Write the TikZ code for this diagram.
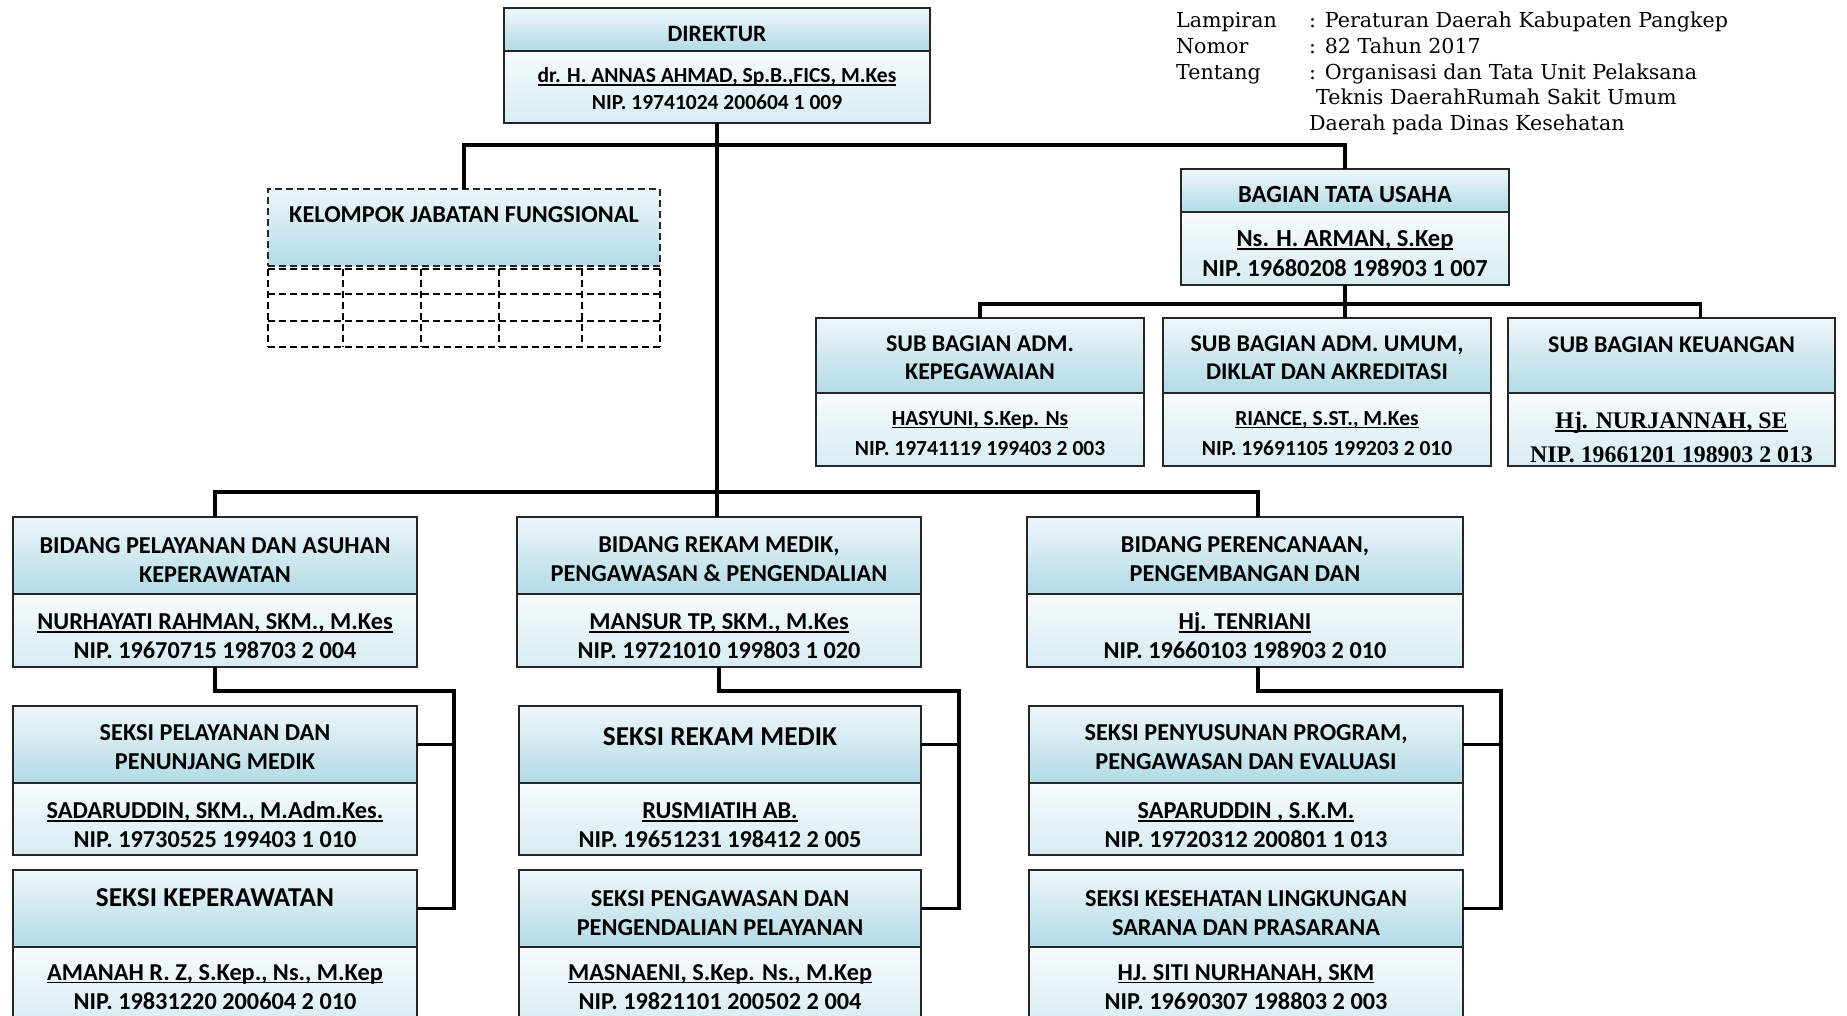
\documentclass[tikz,border=0pt]{standalone}
\usepackage{fontspec}
\setmainfont{Carlito}
\newfontfamily\lampfont{DejaVu Serif}
\newfontfamily\sbserif{Liberation Serif}
\definecolor{hdtop}{HTML}{EEF7FA}
\definecolor{hdbot}{HTML}{B2DAE5}
\definecolor{bdtop}{HTML}{F7FBFD}
\definecolor{bdbot}{HTML}{D6ECF2}
\newcommand\fsz[2]{\fontsize{#1}{#2}\selectfont\bfseries}
\newcommand\ulname[1]{\setbox0\hbox{#1}\rlap{\rule[-3pt]{\wd0}{1.5pt}}\box0}
\newcommand\dn[1]{\rule{0pt}{#1pt}}
\begin{document}
\begin{tikzpicture}[x=1pt,y=-1pt,
  hd/.style={draw=black!85,line width=1.8pt,top color=hdtop,bottom color=hdbot,anchor=north west,inner sep=0pt,outer sep=0pt,align=center},
  bd/.style={hd,top color=bdtop,bottom color=bdbot},
  bf/.style={font=\fsz{24.3}{29}},
  bigf/.style={font=\fsz{27.3}{31}},
  sbf/.style={font=\fsz{24}{28}},
  sbn/.style={font=\fsz{21.5}{30}},
  lowtext/.style={text height=25pt,text depth=0pt},
  conn/.style={line width=3.5pt},
  gridline/.style={line width=1.6pt,dash pattern=on 7pt off 4pt}]
\useasboundingbox (0,0) rectangle (1847,1016);
\clip (0,0) rectangle (1847,1016);
\node[anchor=base west,inner sep=0pt,font=\lampfont\fontsize{20.6}{25.6}\selectfont] (lamp) at (1176,28)
  {\begin{tabular}[t]{@{}p{133pt}@{}l@{}}Lampiran & : Peraturan Daerah Kabupaten Pangkep\\Nomor & : 82 Tahun 2017\\Tentang & : Organisasi dan Tata Unit Pelaksana\\ & \hspace{7pt}Teknis DaerahRumah Sakit Umum\\ & Daerah pada Dinas Kesehatan\end{tabular}};
% direktur
\node[hd,lowtext,minimum width=426,minimum height=43,font=\fsz{23.5}{26}] (dir-h) at (504,8) {DIREKTUR};
\node[bd,minimum width=426,minimum height=72,font=\fsz{21.5}{27}] (dir-b) at (dir-h.south west) {\dn{19}\ulname{dr. H. ANNAS AHMAD, Sp.B.,FICS, M.Kes}\\NIP. 19741024 200604 1 009};
% kelompok jabatan fungsional
\node[hd,gridline,minimum width=392,minimum height=77,font=\fsz{24.3}{26}] (kjf) at (268,189) {KELOMPOK JABATAN FUNGSIONAL\\ \mbox{}};
\foreach \gx in {268,343,421,499,582,660}{\draw[gridline](\gx,269)--(\gx,347);}
\foreach \gy in {269,294,321,347}{\draw[gridline](268,\gy)--(660,\gy);}
% tata usaha
\node[hd,lowtext,minimum width=328,minimum height=43,font=\fsz{24.6}{26}] (tu-h) at (1181,169) {BAGIAN TATA USAHA};
\node[bd,minimum width=328,minimum height=73,font=\fsz{24.5}{29.5}] (tu-b) at (tu-h.south west) {\dn{26}\ulname{Ns. H. ARMAN, S.Kep}\\NIP. 19680208 198903 1 007};
\node[hd,sbf,minimum width=328,minimum height=75] (sbpeg-h) at (816,318) {\dn{21}SUB BAGIAN ADM.\\KEPEGAWAIAN};
\node[bd,sbn,minimum width=328,minimum height=73] (sbpeg-b) at (sbpeg-h.south west) {\dn{22}\ulname{HASYUNI, S.Kep. Ns}\\NIP. 19741119 199403 2 003};
\node[hd,sbf,minimum width=328,minimum height=75] (sbumum-h) at (1163,318) {\dn{21}SUB BAGIAN ADM. UMUM,\\DIKLAT DAN AKREDITASI};
\node[bd,sbn,minimum width=328,minimum height=73] (sbumum-b) at (sbumum-h.south west) {\dn{22}\ulname{RIANCE, S.ST., M.Kes}\\NIP. 19691105 199203 2 010};
\node[hd,sbf,minimum width=327,minimum height=75] (sbkeu-h) at (1508,318) {\dn{21}SUB BAGIAN KEUANGAN\\ \mbox{}};
\begin{scope}
\clip (1507,392) rectangle (1836,465);
\node[bd,minimum width=327,minimum height=73,font={\sbserif\fsz{23.8}{34}}] (sbkeu-b) at (sbkeu-h.south west) {\dn{33}\ulname{Hj. NURJANNAH, SE}\\NIP. 19661201 198903 2 013};
\end{scope}
\draw[draw=black!85,line width=1.8pt] (sbkeu-b.south west) rectangle (sbkeu-b.north east);
% bidang
\node[hd,bf,minimum width=404,minimum height=77] (byan-h) at (13,517) {\dn{24}BIDANG PELAYANAN DAN ASUHAN\\KEPERAWATAN};
\node[bd,bf,minimum width=404,minimum height=73] (byan-b) at (byan-h.south west) {\dn{28}\ulname{NURHAYATI RAHMAN, SKM., M.Kes}\\NIP. 19670715 198703 2 004};
\node[hd,bf,minimum width=404,minimum height=77] (brm-h) at (517,517) {\dn{24}BIDANG REKAM MEDIK,\\PENGAWASAN \& PENGENDALIAN};
\node[bd,bf,minimum width=404,minimum height=73] (brm-b) at (brm-h.south west) {\dn{28}\ulname{MANSUR TP, SKM., M.Kes}\\NIP. 19721010 199803 1 020};
\node[hd,bf,minimum width=436,minimum height=77] (bren-h) at (1027,517) {\dn{24}BIDANG PERENCANAAN,\\PENGEMBANGAN DAN};
\node[bd,bf,minimum width=436,minimum height=73] (bren-b) at (bren-h.south west) {\dn{28}\ulname{Hj. TENRIANI}\\NIP. 19660103 198903 2 010};
% seksi
\node[hd,bf,minimum width=404,minimum height=77] (skyan1-h) at (13,706) {\dn{21}SEKSI PELAYANAN DAN\\PENUNJANG MEDIK};
\node[bd,bf,minimum width=404,minimum height=72] (skyan1-b) at (skyan1-h.south west) {\dn{28.5}\ulname{SADARUDDIN, SKM., M.Adm.Kes.}\\NIP. 19730525 199403 1 010};
\node[hd,bigf,minimum width=404,minimum height=77] (skyan2-h) at (13,870) {\dn{27.5}SEKSI KEPERAWATAN\\ \mbox{}};
\node[bd,bf,minimum width=404,minimum height=80] (skyan2-b) at (skyan2-h.south west) {\ulname{AMANAH R. Z, S.Kep., Ns., M.Kep}\\NIP. 19831220 200604 2 010};
\node[hd,bigf,minimum width=402,minimum height=77] (skrm1-h) at (519,706) {\dn{33.5}SEKSI REKAM MEDIK\\ \mbox{}};
\node[bd,bf,minimum width=402,minimum height=72] (skrm1-b) at (skrm1-h.south west) {\dn{28.5}\ulname{RUSMIATIH AB.}\\NIP. 19651231 198412 2 005};
\node[hd,bf,minimum width=402,minimum height=77] (skrm2-h) at (519,870) {\dn{25.5}SEKSI PENGAWASAN DAN\\PENGENDALIAN PELAYANAN};
\node[bd,bf,minimum width=402,minimum height=80] (skrm2-b) at (skrm2-h.south west) {\ulname{MASNAENI, S.Kep. Ns., M.Kep}\\NIP. 19821101 200502 2 004};
\node[hd,bf,minimum width=434,minimum height=77] (skren1-h) at (1029,706) {\dn{21}SEKSI PENYUSUNAN PROGRAM,\\PENGAWASAN DAN EVALUASI};
\node[bd,bf,minimum width=434,minimum height=72] (skren1-b) at (skren1-h.south west) {\dn{28.5}\ulname{SAPARUDDIN , S.K.M.}\\NIP. 19720312 200801 1 013};
\node[hd,bf,minimum width=434,minimum height=77] (skren2-h) at (1029,870) {\dn{25.5}SEKSI KESEHATAN LINGKUNGAN\\SARANA DAN PRASARANA};
\node[bd,bf,minimum width=434,minimum height=80] (skren2-b) at (skren2-h.south west) {\ulname{HJ. SITI NURHANAH, SKM}\\NIP. 19690307 198803 2 003};
% garis
\coordinate (topbus) at (0,145);
\coordinate (sbbus) at (0,304);
\coordinate (midbus) at (0,492);
\coordinate (keu-in) at ([xshift=29pt]sbkeu-h.north);
\coordinate (ren-in) at ([xshift=13pt]bren-h.north);
\coordinate (ren-out) at ([xshift=13pt]bren-b.south);
\coordinate (yan-r) at (454,691);
\coordinate (rm-r) at (959,691);
\coordinate (ren-r) at (1501,691);
\draw[conn] (dir-b.south) -- (dir-b.south |- brm-h.north);
\draw[conn] (kjf.north) |- (topbus -| tu-h.north) -- (tu-h.north);
\draw[conn] (tu-b.south) -- (tu-b.south |- sbumum-h.north);
\draw[conn] (sbpeg-h.north) |- (sbbus -| keu-in) -- (keu-in);
\draw[conn] (byan-h.north) |- (midbus -| ren-in) -- (ren-in);
\draw[conn] (byan-b.south) |- (yan-r) |- (skyan2-h.east);
\draw[conn] (skyan1-h.east) -- (skyan1-h.east -| yan-r);
\draw[conn] (brm-b.south) |- (rm-r) |- (skrm2-h.east);
\draw[conn] (skrm1-h.east) -- (skrm1-h.east -| rm-r);
\draw[conn] (ren-out) |- (ren-r) |- (skren2-h.east);
\draw[conn] (skren1-h.east) -- (skren1-h.east -| ren-r);
\end{tikzpicture}
\end{document}
